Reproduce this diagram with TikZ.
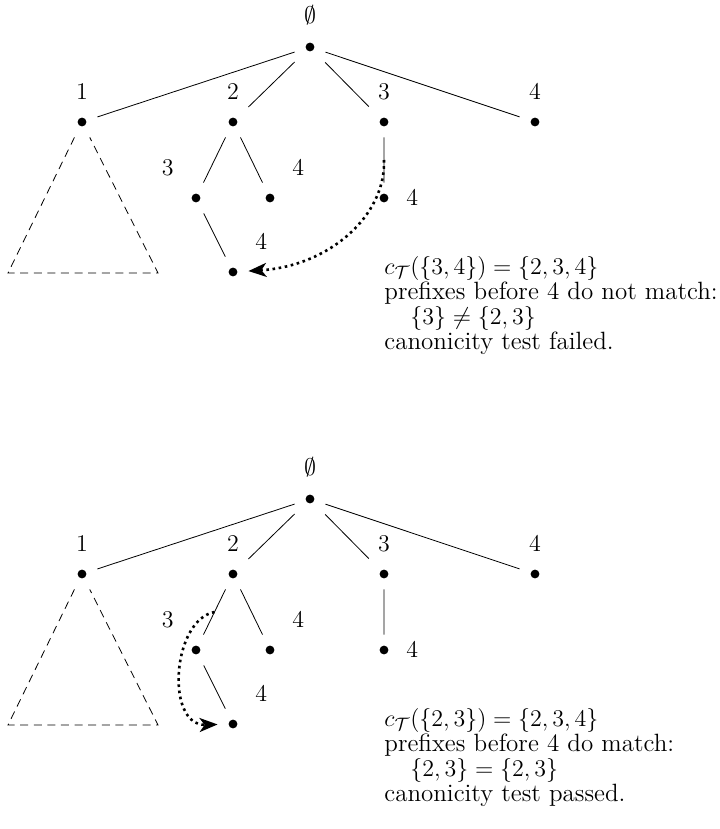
\documentclass[tikz,border=0pt]{standalone}
\usepackage{amssymb}
\usepackage{tikz}
\usetikzlibrary{arrows.meta,positioning,calc}
\setlength{\lineskiplimit}{-20pt}

\begin{document}
\begin{tikzpicture}[x=0.5pt,y=-0.5pt,every node/.style={font=\fontsize{12.5}{12.5}\selectfont}]
\tikzstyle{vtx}=[rectangle,minimum size=15pt,inner sep=0pt,path picture={\fill (path picture bounding box.center) circle (2.2pt);}]
\tikzstyle{sub}=[dash pattern=on 4pt off 2.8pt]
\tikzstyle{jump}=[line width=1.3pt,dash pattern=on 1.3pt off 1.8pt,-{Stealth[length=9pt,width=7pt,inset=2.5pt]}]
\tikzstyle{note}=[anchor=north west,align=left,inner sep=0pt]
\useasboundingbox (0,0) rectangle (719,829);
% first tree: test fails
\node[vtx,label=above:$\emptyset$] (troot) at (310,47) {};
\node[vtx,label=above:$1$] (t1) at (82,122) {};
\node[vtx,label=above:$2$] (t2) at (233,122) {};
\node[vtx,label=above:$3$] (t3) at (384,122) {};
\node[vtx,label=above:$4$] (t4) at (535,122) {};
\node[vtx,label=north west:$3$] (t23) at (196,198) {};
\node[vtx,label=north east:$4$] (t24) at (270,198) {};
\node[vtx,label=right:$4$] (t34) at (384,198) {};
\node[vtx,label=north east:$4$] (t234) at (233,272) {};
\coordinate (tl) at (8,273);
\coordinate (tr) at (158,273);
\draw (troot)--(t1) (troot)--(t2) (troot)--(t3) (troot)--(t4);
\draw (t2)--(t23) (t2)--(t24) (t3)--(t34) (t23)--(t234);
\draw[sub] (t1)--(tl)--(tr)--(t1);
\coordinate (tfrom) at ($(t3)!0.5!(t34)$);
\draw[jump] (tfrom) .. controls (386,215) and (330,266) .. (t234);
\node[note] (tnote) at (384,256) {$c_{\mathcal{T}}(\{3,4\})=\{2,3,4\}$\\prefixes before 4 do not match:\\\hspace*{13pt}$\{3\}\neq\{2,3\}$\\canonicity test failed.};
% second tree: test passes
\node[vtx,label=above:$\emptyset$] (broot) at (310,499) {};
\node[vtx,label=above:$1$] (b1) at (82,574) {};
\node[vtx,label=above:$2$] (b2) at (233,574) {};
\node[vtx,label=above:$3$] (b3) at (384,574) {};
\node[vtx,label=above:$4$] (b4) at (535,574) {};
\node[vtx,label=north west:$3$] (b23) at (196,650) {};
\node[vtx,label=north east:$4$] (b24) at (270,650) {};
\node[vtx,label=right:$4$] (b34) at (384,650) {};
\node[vtx,label=north east:$4$] (b234) at (233,724) {};
\coordinate (bl) at (8,725);
\coordinate (br) at (158,725);
\draw (broot)--(b1) (broot)--(b2) (broot)--(b3) (broot)--(b4);
\draw (b2)--(b23) (b2)--(b24) (b3)--(b34) (b23)--(b234);
\draw[sub] (b1)--(bl)--(br)--(b1);
\coordinate (bfrom) at ($(b2)!0.5!(b23)$);
\draw[jump] (bfrom) .. controls (172,620) and (165,726) .. (b234);
\node[note] (bnote) at (384,708) {$c_{\mathcal{T}}(\{2,3\})=\{2,3,4\}$\\prefixes before 4 do match:\\\hspace*{13pt}$\{2,3\}=\{2,3\}$\\canonicity test passed.};
\end{tikzpicture}
\end{document}
